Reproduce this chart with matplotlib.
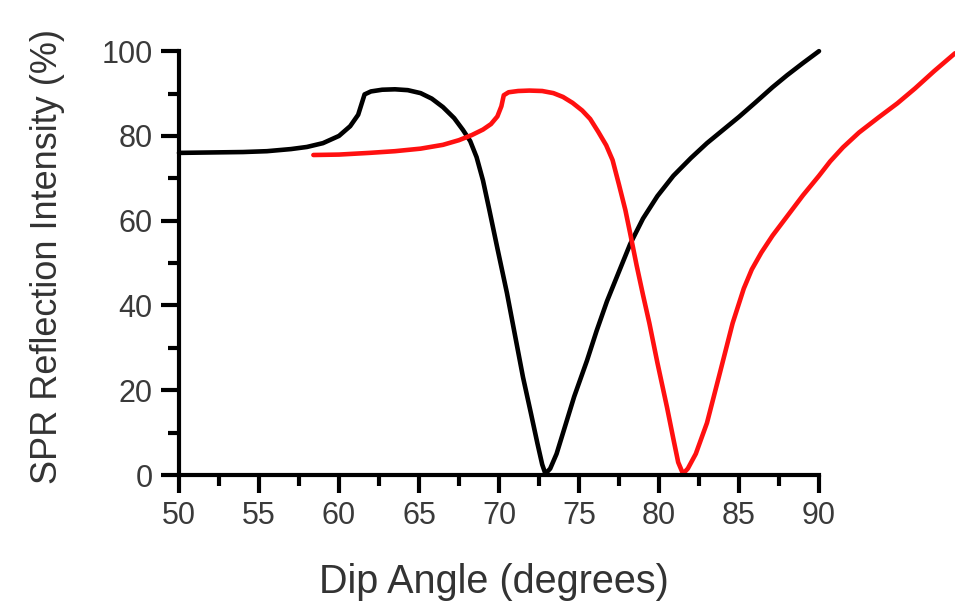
import matplotlib.pyplot as plt
from matplotlib.ticker import MultipleLocator

plt.rcParams['font.family'] = ['Liberation Sans', 'DejaVu Sans']

# black curve
black_x = [50.0, 52.0, 54.0, 55.5, 57.0, 58.0, 59.0, 60.0, 60.7, 61.2, 61.45, 61.6,
           62.0, 62.7, 63.5, 64.3, 65.1, 65.8, 66.5, 67.2, 67.75, 68.2, 68.6, 69.0,
           69.4, 69.9, 70.5, 71.0, 71.5, 72.0, 72.4, 72.7, 72.9, 73.2, 73.6, 74.0,
           74.7, 75.5, 76.1, 76.75, 77.5, 78.2, 79.0, 79.9, 80.9, 82.0, 83.0, 84.0,
           85.0, 86.0, 87.1, 88.0, 89.0, 90.0]
black_y = [76.0, 76.1, 76.2, 76.4, 76.9, 77.4, 78.3, 80.0, 82.3, 85.0, 88.0, 89.8,
           90.5, 90.9, 91.0, 90.8, 90.1, 88.8, 86.8, 84.2, 81.4, 78.8, 75.0, 69.5,
           62.5, 53.5, 42.9, 33.0, 23.1, 14.5, 7.5, 2.5, 0.3, 1.5, 5.0, 9.9,
           18.5, 27.0, 34.0, 41.0, 48.0, 54.5, 60.5, 65.8, 70.6, 74.8, 78.3, 81.4,
           84.5, 87.8, 91.5, 94.3, 97.2, 100.0]

# red curve
red_x = [58.4, 60.0, 61.9, 63.5, 65.1, 66.5, 67.5, 68.3, 69.0, 69.5, 69.9, 70.15,
         70.3, 70.6, 71.2, 71.9, 72.7, 73.4, 74.0, 74.6, 75.2, 75.7, 76.2, 76.7,
         77.1, 77.5, 77.9, 78.2, 78.6, 79.0, 79.4, 79.9, 80.5, 80.9, 81.2, 81.5,
         81.8, 82.3, 83.0, 83.8, 84.6, 85.3, 85.8, 86.4, 87.1, 88.0, 89.0, 90.0,
         90.7, 91.5, 92.5, 93.7, 94.9, 96.0, 97.2, 98.5]
red_y = [75.5, 75.6, 76.0, 76.4, 77.0, 77.9, 79.0, 80.2, 81.5, 82.8, 84.6, 87.0,
         89.6, 90.3, 90.6, 90.7, 90.6, 90.1, 89.2, 87.8, 86.0, 84.0, 81.0, 77.8,
         74.3, 68.5, 62.5, 57.0, 49.5, 42.5, 35.8, 26.5, 16.0, 8.5, 3.0, 0.3,
         1.5, 5.0, 12.3, 24.0, 35.8, 44.0, 48.5, 52.5, 56.5, 61.0, 66.0, 70.6,
         74.0, 77.3, 80.8, 84.3, 87.7, 91.2, 95.3, 99.5]

fig = plt.figure(figsize=(9.55, 6.09), dpi=100)
ax = fig.add_axes([0.1874, 0.22, 0.8126, 0.696])

ax.plot(black_x, black_y, color='black', lw=3.3, clip_on=False, solid_capstyle='round')
ax.plot(red_x, red_y, color='#ff1010', lw=3.3, clip_on=False, solid_capstyle='round')

ax.set_xlim(50, 98.5)
ax.set_ylim(0, 100)
ax.spines['top'].set_visible(False)
ax.spines['right'].set_visible(False)
ax.spines['left'].set_linewidth(3)
ax.spines['bottom'].set_linewidth(3)
ax.spines['bottom'].set_bounds(50, 90)

ax.set_xticks([50, 55, 60, 65, 70, 75, 80, 85, 90])
ax.set_xticks([52.5 + 5 * i for i in range(8)], minor=True)
ax.set_yticks([0, 20, 40, 60, 80, 100])
ax.yaxis.set_minor_locator(MultipleLocator(10))

ax.tick_params(which='major', length=13, width=3, labelsize=22, colors='black',
               labelcolor='#3a3a3a', pad=6)
ax.tick_params(which='minor', length=8, width=3, colors='black')

fig.text(0.517, 0.045, 'Dip Angle (degrees)', fontsize=28.5, color='#333333',
         ha='center', va='center')
fig.text(0.050, 0.578, 'SPR Reflection Intensity (%)', fontsize=26, color='#333333',
         ha='center', va='center', rotation=90)

fig.savefig('out.png', dpi=100)
